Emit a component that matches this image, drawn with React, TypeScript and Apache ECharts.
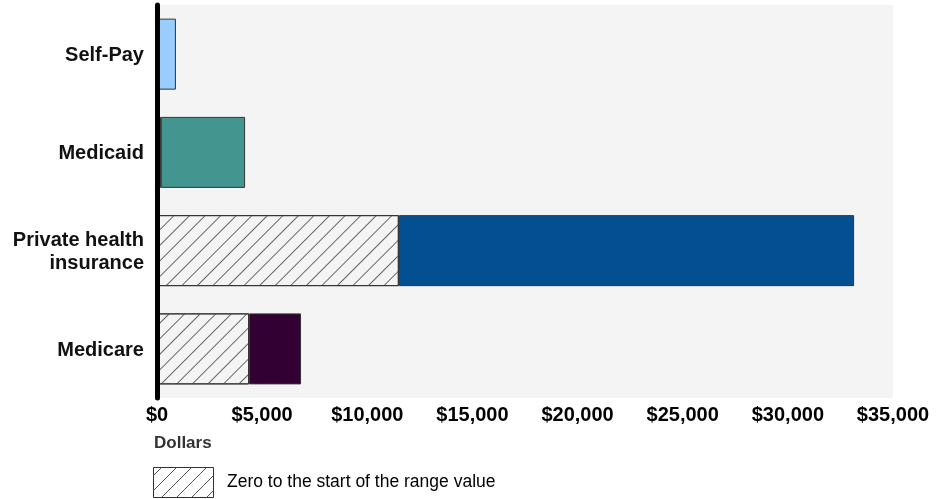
import React, { useEffect, useRef } from "react";
import * as echarts from "echarts";

const categories = ["Self-Pay", "Medicaid", "Private health\ninsurance", "Medicare"];
const rangeStart = [0, 180, 11500, 4380];
const rangeEnd = [900, 4190, 33150, 6850];
const rangeColors = ["#99ccff", "#42968f", "#044f91", "#330033"];
const xTicks = [0, 5000, 10000, 15000, 20000, 25000, 30000, 35000];
const legendLabel = "Zero to the start of the range value";
const axisTitle = "Dollars";

const FONT = "'Liberation Sans', Arial, sans-serif";

function hatchLines(x0: number, y0: number, w: number, h: number, step: number, offset: number) {
  const out: any[] = [];
  for (let k = x0 + y0 + offset; k < x0 + w + y0 + h; k += step) {
    const ax = Math.max(x0, k - (y0 + h));
    const bx = Math.min(x0 + w, k - y0);
    if (ax < bx) {
      out.push({
        type: "line",
        shape: { x1: ax, y1: k - ax, x2: bx, y2: k - bx },
        style: { stroke: "#555", lineWidth: 1 },
        silent: true,
      });
    }
  }
  return out;
}

export default function App() {
  const ref = useRef<HTMLDivElement>(null);
  useEffect(() => {
    if (!ref.current) return;
    const chart = echarts.init(ref.current, undefined, { renderer: "svg" });
    const hatch = {
      symbol: "rect",
      symbolSize: 1,
      dashArrayX: [1, 0],
      dashArrayY: [1, 10],
      rotation: -Math.PI / 4,
      color: "#666",
    };
    chart.setOption({
      animation: false,
      grid: {
        left: 157,
        right: 53,
        top: 5,
        bottom: 101,
        show: true,
        backgroundColor: "#f4f4f4",
        borderWidth: 0,
      },
      xAxis: {
        type: "value",
        min: 0,
        max: 35000,
        interval: 5000,
        axisLine: { show: false },
        axisTick: { show: false },
        splitLine: { show: false },
        axisLabel: {
          margin: 6,
          color: "#000",
          fontFamily: FONT,
          fontWeight: "bold",
          fontSize: 20,
          formatter: (v: number) =>
            xTicks.includes(v) ? "$" + v.toLocaleString("en-US") : "",
        },
      },
      yAxis: {
        type: "category",
        data: categories,
        inverse: true,
        z: 10,
        axisLine: { show: true, lineStyle: { color: "#000", width: 5 } },
        axisTick: { show: false },
        axisLabel: {
          margin: 13,
          color: "#111",
          fontFamily: FONT,
          fontWeight: "bold",
          fontSize: 20,
          lineHeight: 23,
          align: "right",
        },
      },
      series: [
        {
          name: legendLabel,
          type: "bar",
          stack: "range",
          barWidth: 71,
          data: rangeStart,
          itemStyle: {
            color: "#f4f4f4",
            borderColor: "#333",
            borderWidth: 1,
            decal: hatch,
          },
        },
        {
          name: "Range",
          type: "bar",
          stack: "range",
          barWidth: 71,
          data: rangeEnd.map((e, i) => ({
            value: e - rangeStart[i],
            itemStyle: { color: rangeColors[i] },
          })),
          itemStyle: { borderColor: "#333", borderWidth: 1 },
        },
      ],
      graphic: [
        {
          type: "text",
          left: 154,
          top: 434,
          style: {
            text: axisTitle,
            fill: "#333",
            font: `bold 17px ${FONT}`,
          },
        },
        {
          type: "rect",
          shape: { x: 153.5, y: 467.5, width: 60, height: 30 },
          style: { fill: "#fff", stroke: "#333", lineWidth: 1 },
        },
        ...hatchLines(153.5, 467.5, 60, 30, 15, 8),
        {
          type: "text",
          left: 227,
          top: 472,
          style: {
            text: legendLabel,
            fill: "#000",
            font: `17.5px ${FONT}`,
          },
        },
      ],
    });
    return () => chart.dispose();
  }, []);
  return (
    <div
      ref={ref}
      style={{ position: "fixed", left: 0, top: 0, width: 946, height: 499 }}
    />
  );
}
